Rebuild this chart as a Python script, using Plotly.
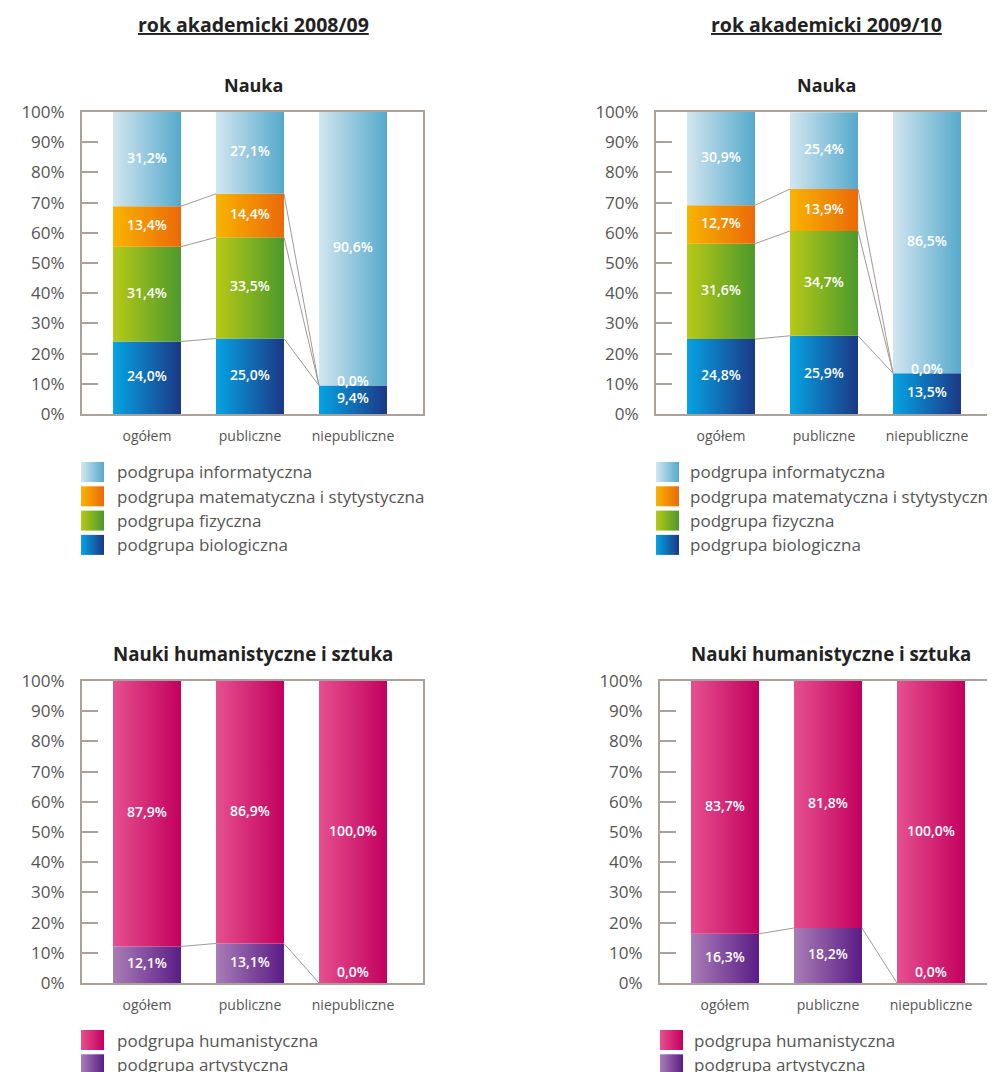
import plotly.graph_objects as go

# ---------------- data ----------------
categories = ["ogółem", "publiczne", "niepubliczne"]
y_ticks = [0, 10, 20, 30, 40, 50, 60, 70, 80, 90, 100]
y_tick_labels = [f"{v}%" for v in y_ticks]

year_titles = ["rok akademicki 2008/09", "rok akademicki 2009/10"]
nauka_title = "Nauka"
hum_title = "Nauki humanistyczne i sztuka"

# stacked bottom -> top
nauka_series = ["podgrupa biologiczna", "podgrupa fizyczna",
                "podgrupa matematyczna i stytystyczna", "podgrupa informatyczna"]
nauka_2008_bio = [24.0, 25.0, 9.4]
nauka_2008_fiz = [31.4, 33.5, 0.0]
nauka_2008_mat = [13.4, 14.4, 0.0]
nauka_2008_inf = [31.2, 27.1, 90.6]

nauka_2009_bio = [24.8, 25.9, 13.5]
nauka_2009_fiz = [31.6, 34.7, 0.0]
nauka_2009_mat = [12.7, 13.9, 0.0]
nauka_2009_inf = [30.9, 25.4, 86.5]

hum_series = ["podgrupa artystyczna", "podgrupa humanistyczna"]
hum_2008_art = [12.1, 13.1, 0.0]
hum_2008_hum = [87.9, 86.9, 100.0]
hum_2009_art = [16.3, 18.2, 0.0]
hum_2009_hum = [83.7, 81.8, 100.0]

# ---------------- styles ----------------
GRAD = {
    "podgrupa informatyczna": ("#d3e6f0", "#55a9cb"),
    "podgrupa matematyczna i stytystyczna": ("#f8b400", "#eb6909"),
    "podgrupa fizyczna": ("#b8c916", "#4b992c"),
    "podgrupa biologiczna": ("#05a3e3", "#1b3886"),
    "podgrupa humanistyczna": ("#e6508f", "#c2005e"),
    "podgrupa artystyczna": ("#a97db6", "#5a1c86"),
}
FRAME = "#a8a19c"
CONN = "#a09a96"
TXT = "#555555"
FONT = "Open Sans"
W, H = 995, 1072
OX, OY = 8, 8      # page body margin compensation (screen px -> figure px)
UNIT = 103.0       # px per category step
BAR_W = 0.66

def fx(p):
    return (p - OX) / W

def fy(p):
    return 1 - (p - OY) / H

def fmt(v):
    return f"{v:.1f}".replace(".", ",") + "%"

panels = [
    dict(ax="", left=82, right=423, c0=147, top=112, bottom=414, mirror=True,
         series=nauka_series,
         values=[nauka_2008_bio, nauka_2008_fiz, nauka_2008_mat, nauka_2008_inf]),
    dict(ax="2", left=656, right=997, c0=721, top=112, bottom=414, mirror=False,
         series=nauka_series,
         values=[nauka_2009_bio, nauka_2009_fiz, nauka_2009_mat, nauka_2009_inf]),
    dict(ax="3", left=82, right=423, c0=147, top=681, bottom=983, mirror=True,
         series=hum_series, values=[hum_2008_art, hum_2008_hum]),
    dict(ax="4", left=660, right=1001, c0=725, top=681, bottom=983, mirror=False,
         series=hum_series, values=[hum_2009_art, hum_2009_hum]),
]

fig = go.Figure()

for p in panels:
    xa, ya = "x" + p["ax"], "y" + p["ax"]
    n = len(categories)
    cum = [[0.0] * n]
    for vals in p["values"]:
        cum.append([cum[-1][i] + vals[i] for i in range(n)])
    lx, ly, lt = [], [], []
    seen = set()
    for j, (name, vals) in enumerate(zip(p["series"], p["values"])):
        c_left, c_right = GRAD[name]
        for i in range(n):
            b, t = cum[j][i], cum[j + 1][i]
            if vals[i] > 0:
                x0, x1 = i - BAR_W / 2, i + BAR_W / 2
                fig.add_trace(go.Scatter(
                    x=[x0, x1, x1, x0, x0], y=[b, b, t, t, b],
                    mode="lines", fill="toself", line=dict(width=0),
                    fillgradient=dict(type="horizontal",
                                      colorscale=[[0, c_left], [1, c_right]]),
                    xaxis=xa, yaxis=ya, hoverinfo="skip", showlegend=False))
                pos = (b + t) / 2
            else:
                pos = max(b + 1.0, 3.3)   # zero-height segment: label just above its level
            key = (i, round(pos, 3), fmt(vals[i]))
            if key in seen:   # identical zero labels stacked at the same spot
                continue
            seen.add(key)
            lx.append(i)
            ly.append(pos)
            lt.append(fmt(vals[i]))
    cx, cy = [], []
    for j in range(1, len(p["values"])):
        for i in range(n - 1):
            cx += [i + BAR_W / 2, i + 1 - BAR_W / 2, None]
            cy += [cum[j][i], cum[j][i + 1], None]
    fig.add_trace(go.Scatter(x=cx, y=cy, mode="lines",
                             line=dict(color=CONN, width=1),
                             xaxis=xa, yaxis=ya, hoverinfo="skip", showlegend=False))
    fig.add_trace(go.Scatter(x=lx, y=ly, text=lt, mode="text",
                             textfont=dict(family=FONT, size=14, color="white", weight=600),
                             xaxis=xa, yaxis=ya, hoverinfo="skip", showlegend=False))

    xkey = "xaxis" + p["ax"]
    ykey = "yaxis" + p["ax"]
    fig.update_layout(**{
        xkey: dict(domain=[fx(p["left"]), min(1.0, fx(p["right"]))],
                   range=[(p["left"] - p["c0"]) / UNIT,
                          (min(p["right"], W + OX) - p["c0"]) / UNIT],
                   tickvals=list(range(n)), ticktext=categories, ticks="",
                   showgrid=False, zeroline=False, showline=True, linecolor=FRAME,
                   linewidth=2, mirror=True, fixedrange=True, automargin=False,
                   tickfont=dict(family=FONT, size=14, color=TXT),
                   ticklabelstandoff=8, anchor=ya),
        ykey: dict(domain=[fy(p["bottom"]), fy(p["top"])], range=[0, 100],
                   tickvals=y_ticks, ticktext=y_tick_labels, ticks="inside",
                   ticklen=16, tickwidth=2, tickcolor=FRAME,
                   showgrid=False, zeroline=False, showline=True, linecolor=FRAME,
                   linewidth=2, mirror=p["mirror"], fixedrange=True, automargin=False,
                   tickfont=dict(family=FONT, size=17, color=TXT),
                   ticklabelstandoff=12, anchor=xa),
    })

# ---------------- legends (overlay axis in screen px) ----------------
legend_blocks = [
    dict(x=81, text_x=115, y0=462, items=list(reversed(nauka_series))),
    dict(x=656, text_x=688, y0=462, items=list(reversed(nauka_series))),
    dict(x=81, text_x=115, y0=1030, items=list(reversed(hum_series))),
    dict(x=660, text_x=692, y0=1030, items=list(reversed(hum_series))),
]
SW, SH, STEP = 23, 20, 24.3
annotations = []
for lb in legend_blocks:
    for k, name in enumerate(lb["items"]):
        top = lb["y0"] + k * STEP
        x0, x1 = lb["x"], lb["x"] + SW
        c_left, c_right = GRAD[name]
        fig.add_trace(go.Scatter(
            x=[x0, x1, x1, x0, x0], y=[top, top, top + SH, top + SH, top],
            mode="lines", fill="toself", line=dict(width=0),
            fillgradient=dict(type="horizontal", colorscale=[[0, c_left], [1, c_right]]),
            xaxis="x5", yaxis="y5", hoverinfo="skip", showlegend=False))
        annotations.append(dict(x=fx(lb["text_x"]), y=fy(top + SH / 2), xref="paper", yref="paper",
                                text=name, showarrow=False, xanchor="left", yanchor="middle",
                                font=dict(family=FONT, size=17, color=TXT)))

fig.update_layout(
    xaxis5=dict(domain=[0, 1], range=[OX, W + OX], visible=False, fixedrange=True, anchor="y5"),
    yaxis5=dict(domain=[0, 1], range=[H + OY, OY], visible=False, fixedrange=True, anchor="x5"),
)

# ---------------- titles ----------------
for cx, t in zip([253, 826], year_titles):
    annotations.append(dict(x=fx(cx), y=fy(24), xref="paper", yref="paper",
                            text=f"<u><b>{t}</b></u>", showarrow=False,
                            xanchor="center", yanchor="middle",
                            font=dict(family=FONT, size=19.5, color="#222222")))
for cx in [253, 826]:
    annotations.append(dict(x=fx(cx), y=fy(85), xref="paper", yref="paper",
                            text=f"<b>{nauka_title}</b>", showarrow=False,
                            xanchor="center", yanchor="middle",
                            font=dict(family=FONT, size=18, color="#222222")))
for cx in [253, 831]:
    annotations.append(dict(x=fx(cx), y=fy(653), xref="paper", yref="paper",
                            text=f"<b>{hum_title}</b>", showarrow=False,
                            xanchor="center", yanchor="middle",
                            font=dict(family=FONT, size=18.7, color="#222222")))

fig.update_layout(
    width=W, height=H, margin=dict(l=0, r=0, t=0, b=0, autoexpand=False),
    paper_bgcolor="white", plot_bgcolor="rgba(0,0,0,0)",
    showlegend=False, annotations=annotations,
    font=dict(family=FONT, color=TXT),
)

fig.write_html("out.html", config={"displayModeBar": False})
